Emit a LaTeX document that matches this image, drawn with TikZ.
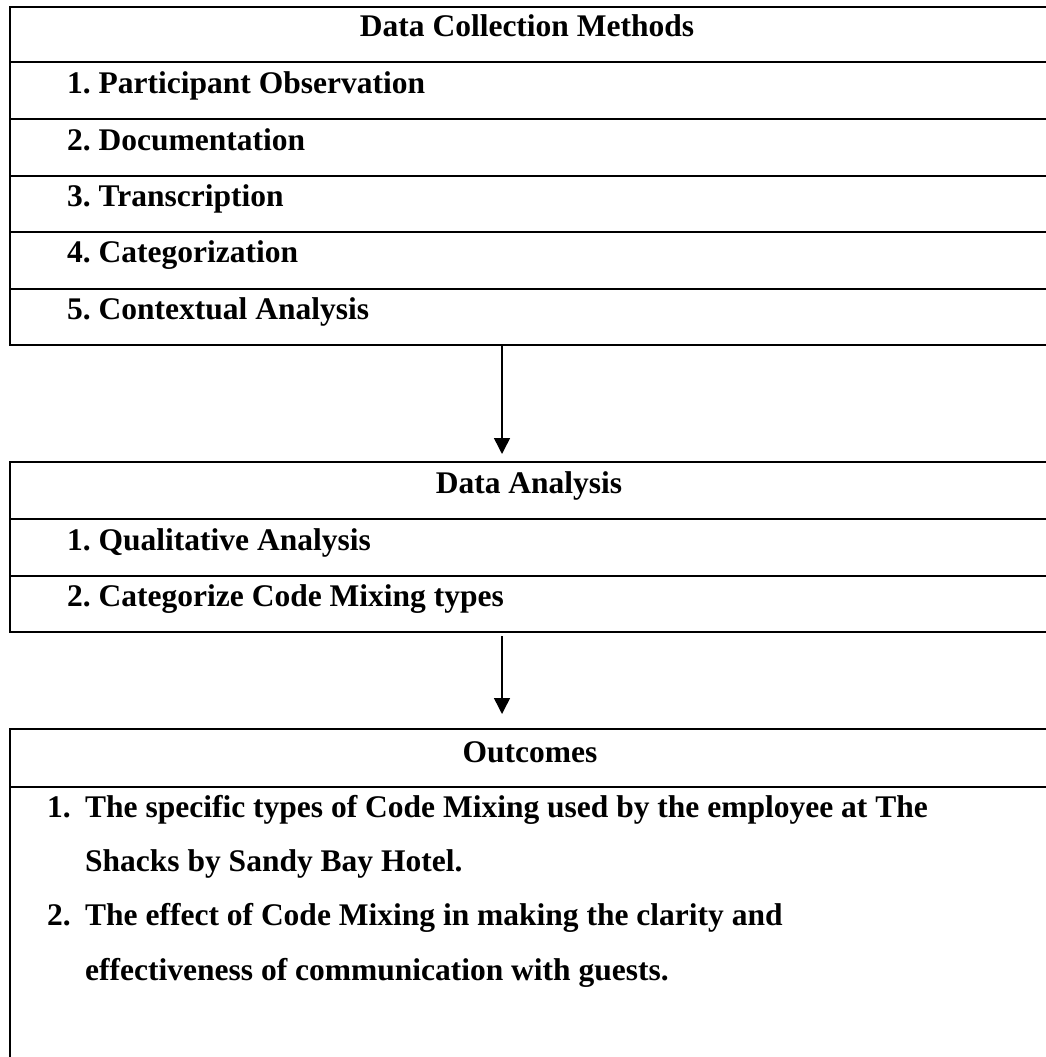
\documentclass[tikz,border=0pt]{standalone}
\usepackage{fontspec}
\setmainfont{Liberation Serif}
\usetikzlibrary{arrows.meta}
\frenchspacing

\tikzset{
  tablebox/.style={draw, line width=2pt, rectangle, anchor=north west, inner sep=0pt, outer sep=0pt, minimum width=1042pt},
  rowline/.style={line width=2pt},
  rowtext/.style={anchor=base west, inner sep=0pt, font=\bfseries\fontsize{31.5}{38}\selectfont},
  headtext/.style={anchor=base, inner sep=0pt, font=\bfseries\fontsize{31.5}{38}\selectfont},
  flow/.style={line width=1.5pt, -{Triangle[width=16pt,length=16pt]}}
}

\begin{document}
\begin{tikzpicture}[x=1pt,y=-1pt]
    \useasboundingbox (0,0) rectangle (1046,1057);
    \clip (0,0) rectangle (1046,1057);

    % boxes
    \node[tablebox, minimum height=338pt] (methods) at (10,7) {};
    \node[tablebox, minimum height=170pt] (analysis) at (10,462) {};
    \node[tablebox, minimum height=340pt] (outcomes) at (10,729) {};

    \foreach \y in {62,119,176,232,289}
        \draw[rowline] (methods.west |- 0,\y) -- (methods.east |- 0,\y);
    \foreach \y in {519,576}
        \draw[rowline] (analysis.west |- 0,\y) -- (analysis.east |- 0,\y);
    \draw[rowline] (outcomes.west |- 0,787) -- (outcomes.east |- 0,787);

    % texts
    \node[headtext] (methodstitle) at (527,37) {Data Collection Methods};
    \node[rowtext] (m1) at (67,93) {1. Participant Observation};
    \node[rowtext] (m2) at (67,150) {2. Documentation};
    \node[rowtext] (m3) at (67,206) {3. Transcription};
    \node[rowtext] (m4) at (67,262) {4. Categorization};
    \node[rowtext] (m5) at (67,319) {5. Contextual Analysis};

    \node[headtext] (analysistitle) at (529,493) {Data Analysis};
    \node[rowtext] (a1) at (67,550) {1. Qualitative Analysis};
    \node[rowtext] (a2) at (67,606) {2. Categorize Code Mixing types};

    \node[headtext] (outcomestitle) at (530,762) {Outcomes};
    \node[rowtext] (o1num) at (47,817) {1.};
    \node[rowtext] (o1a) at (85,817) {The specific types of Code Mixing used by the employee at The};
    \node[rowtext] (o1b) at (85,871) {Shacks by Sandy Bay Hotel.};
    \node[rowtext] (o2num) at (47,925) {2.};
    \node[rowtext] (o2a) at (85,925) {The effect of Code Mixing in making the clarity and};
    \node[rowtext] (o2b) at (85,980) {effectiveness of communication with guests.};

    % arrows
    \coordinate (arrowx) at (502,0);
    \draw[flow, shorten >=8pt] (methods.south -| arrowx) -- (analysis.north -| arrowx);
    \draw[flow, shorten <=4pt, shorten >=15pt] (analysis.south -| arrowx) -- (outcomes.north -| arrowx);
\end{tikzpicture}
\end{document}
